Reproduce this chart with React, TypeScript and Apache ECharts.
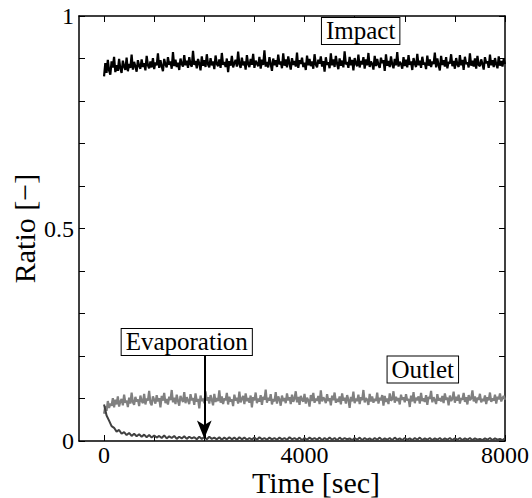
import React, { useEffect, useRef } from "react";
import * as echarts from "echarts";

const bandStep = 25; // seconds between Impact / Outlet samples
const evaporationStep = 50; // seconds between Evaporation samples
const impact = [
  0.858,0.889,0.866,0.897,0.872,0.862,0.893,0.879,0.904,0.868,
  0.884,0.871,0.899,0.876,0.866,0.895,0.881,0.873,0.902,0.870,
  0.887,0.878,0.909,0.874,0.892,0.881,0.869,0.896,0.883,0.876,
  0.898,0.880,0.889,0.872,0.906,0.884,0.877,0.893,0.879,0.901,
  0.875,0.891,0.884,0.912,0.878,0.896,0.882,0.870,0.899,0.886,
  0.879,0.903,0.885,0.893,0.876,0.915,0.882,0.897,0.880,0.890,
  0.873,0.900,0.887,0.881,0.908,0.884,0.895,0.878,0.903,0.886,
  0.881,0.918,0.885,0.894,0.877,0.899,0.888,0.872,0.905,0.883,
  0.896,0.880,0.910,0.886,0.879,0.901,0.884,0.893,0.875,0.907,
  0.887,0.882,0.898,0.878,0.913,0.885,0.892,0.880,0.900,0.868,
  0.894,0.883,0.906,0.879,0.889,0.897,0.881,0.916,0.886,0.878,
  0.902,0.884,0.893,0.874,0.908,0.887,0.880,0.899,0.885,0.911,
  0.878,0.895,0.888,0.882,0.904,0.876,0.897,0.885,0.919,0.881,
  0.892,0.879,0.903,0.887,0.871,0.900,0.884,0.896,0.880,0.909,
  0.886,0.893,0.877,0.912,0.883,0.898,0.879,0.905,0.888,0.874,
  0.901,0.885,0.894,0.881,0.914,0.878,0.896,0.887,0.902,0.880,
  0.890,0.873,0.907,0.884,0.899,0.882,0.893,0.876,0.910,0.886,
  0.879,0.897,0.888,0.905,0.881,0.894,0.869,0.903,0.885,0.891,
  0.877,0.912,0.884,0.898,0.880,0.906,0.887,0.875,0.900,0.883,
  0.895,0.879,0.917,0.886,0.892,0.878,0.904,0.884,0.897,0.872,
  0.901,0.888,0.882,0.909,0.879,0.894,0.886,0.903,0.876,0.898,
  0.884,0.913,0.880,0.893,0.887,0.874,0.906,0.882,0.899,0.885,
  0.878,0.902,0.889,0.896,0.871,0.910,0.883,0.894,0.880,0.905,
  0.886,0.877,0.899,0.884,0.915,0.881,0.892,0.887,0.876,0.903,
  0.882,0.897,0.879,0.908,0.885,0.893,0.873,0.901,0.888,0.880,
  0.911,0.884,0.895,0.878,0.904,0.886,0.890,0.875,0.907,0.883,
  0.898,0.880,0.893,0.887,0.914,0.879,0.900,0.884,0.872,0.906,
  0.885,0.896,0.881,0.903,0.877,0.892,0.888,0.910,0.882,0.894,
  0.876,0.901,0.886,0.880,0.908,0.884,0.897,0.873,0.904,0.887,
  0.891,0.879,0.912,0.883,0.895,0.881,0.900,0.876,0.906,0.885,
  0.882,0.898,0.887,0.874,0.903,0.889,0.893,0.878,0.909,0.884,
  0.896,0.880,0.901,0.886,0.877,0.905,0.883,0.894,0.881,0.899,
  0.887,
];
const outlet = [
  0.064,0.082,0.071,0.094,0.078,0.088,0.083,0.101,0.079,0.097,
  0.086,0.105,0.081,0.093,0.099,0.084,0.109,0.090,0.095,0.080,
  0.102,0.088,0.114,0.091,0.085,0.104,0.093,0.098,0.082,0.107,
  0.094,0.089,0.111,0.086,0.100,0.095,0.118,0.090,0.084,0.105,
  0.097,0.088,0.108,0.093,0.101,0.079,0.106,0.095,0.113,0.089,
  0.099,0.086,0.104,0.096,0.120,0.091,0.102,0.087,0.109,0.094,
  0.083,0.106,0.098,0.092,0.115,0.089,0.103,0.095,0.087,0.110,
  0.096,0.101,0.085,0.112,0.093,0.099,0.077,0.107,0.094,0.100,
  0.089,0.117,0.095,0.103,0.088,0.108,0.097,0.084,0.111,0.092,
  0.101,0.094,0.119,0.090,0.105,0.087,0.100,0.096,0.113,0.086,
  0.104,0.093,0.098,0.082,0.109,0.095,0.102,0.088,0.116,0.091,
  0.099,0.106,0.087,0.112,0.094,0.101,0.090,0.107,0.079,0.103,
  0.096,0.114,0.089,0.100,0.093,0.108,0.085,0.104,0.097,0.121,
  0.090,0.102,0.095,0.110,0.086,0.099,0.093,0.115,0.088,0.105,
  0.098,0.083,0.107,0.094,0.101,0.089,0.112,0.096,0.103,0.087,
  0.109,0.092,0.100,0.117,0.091,0.104,0.085,0.106,0.097,0.093,
  0.111,0.088,0.102,0.096,0.081,0.108,0.094,0.113,0.090,0.100,
  0.095,0.106,0.087,0.119,0.093,0.103,0.098,0.089,0.110,0.094,
  0.101,0.084,0.107,0.096,0.114,0.090,0.099,0.092,0.105,0.086,
  0.112,0.095,0.102,0.088,0.108,0.097,0.078,0.104,0.093,0.116,
  0.089,0.100,0.094,0.109,0.087,0.103,0.096,0.120,0.091,0.101,
  0.097,0.085,0.111,0.093,0.105,0.090,0.099,0.094,0.114,0.088,
  0.102,0.096,0.108,0.083,0.106,0.092,0.100,0.087,0.112,0.095,
  0.098,0.117,0.090,0.104,0.094,0.101,0.086,0.109,0.097,0.103,
  0.091,0.110,0.095,0.099,0.080,0.107,0.093,0.115,0.089,0.102,
  0.096,0.105,0.088,0.113,0.094,0.100,0.092,0.108,0.085,0.104,
  0.099,0.118,0.091,0.103,0.096,0.087,0.110,0.095,0.101,0.093,
  0.106,0.089,0.112,0.097,0.102,0.084,0.107,0.094,0.099,0.116,
  0.090,0.104,0.095,0.109,0.088,0.101,0.097,0.113,0.092,0.103,
  0.086,0.108,0.096,0.100,0.119,0.093,0.105,0.089,0.102,0.097,
  0.111,0.091,0.099,0.094,0.107,0.087,0.103,0.096,0.114,0.092,
  0.100,0.095,0.109,0.088,0.104,0.098,0.112,0.093,0.101,0.106,
  0.097,
];
const evaporation = [
  0.086,0.060,0.048,0.035,0.031,0.022,0.026,0.017,0.021,0.014,
  0.019,0.012,0.017,0.011,0.016,0.010,0.015,0.009,0.014,0.008,
  0.013,0.008,0.012,0.007,0.013,0.006,0.011,0.007,0.012,0.005,
  0.010,0.006,0.011,0.005,0.010,0.006,0.009,0.004,0.010,0.005,
  0.009,0.004,0.010,0.005,0.008,0.004,0.009,0.003,0.008,0.004,
  0.009,0.004,0.008,0.003,0.009,0.004,0.008,0.003,0.007,0.004,
  0.008,0.003,0.009,0.004,0.007,0.003,0.008,0.004,0.007,0.003,
  0.008,0.004,0.007,0.003,0.009,0.004,0.007,0.003,0.008,0.002,
  0.007,0.003,0.008,0.004,0.007,0.003,0.008,0.002,0.007,0.003,
  0.008,0.003,0.007,0.002,0.008,0.003,0.007,0.004,0.006,0.002,
  0.007,0.003,0.008,0.002,0.007,0.003,0.006,0.002,0.007,0.003,
  0.008,0.002,0.006,0.003,0.007,0.002,0.008,0.003,0.006,0.002,
  0.007,0.003,0.006,0.002,0.007,0.003,0.008,0.002,0.006,0.003,
  0.007,0.002,0.006,0.003,0.007,0.002,0.006,0.003,0.007,0.002,
  0.006,0.003,0.007,0.002,0.006,0.003,0.007,0.002,0.006,0.003,
  0.005,0.002,0.006,0.003,0.007,0.002,0.006,0.003,0.005,0.002,
  0.006,
];
const xTicks = [0, 1000, 2000, 3000, 4000, 5000, 6000, 7000, 8000];
const xTickLabels = [0, 4000, 8000];
const yTickLabels = [0, 0.5, 1];
const arrowX = 2000;
const arrowFrom = 0.2;
const arrowTo = 0.006;
const annotations = [
  { text: "Impact", x: 5120, y: 0.965 },
  { text: "Outlet", x: 6360, y: 0.168 },
  { text: "Evaporation", x: 1650, y: 0.233 },
];

const FONT = "Liberation Serif";

export default function App() {
  const ref = useRef<HTMLDivElement>(null);
  useEffect(() => {
    if (!ref.current) return;
    const chart = echarts.init(ref.current, undefined, { renderer: "svg" });
    const toPairs = (arr: number[], step: number) => arr.map((v, i) => [i * step, v]);
    const axisLine = { show: true, onZero: false, lineStyle: { color: "#000", width: 1.5 } };
    const tick = { show: true, inside: true, length: 6, lineStyle: { color: "#000", width: 1 } };
    const option: any = {
      animation: false,
      backgroundColor: "#fff",
      textStyle: { fontFamily: FONT },
      grid: { left: 79, right: 27, top: 16, bottom: 57, containLabel: false, outerBoundsMode: "none" },
      xAxis: [
        {
          type: "value", position: "bottom", min: -500, max: 8000,
          axisLine,
          axisTick: { ...tick, customValues: xTicks },
          axisLabel: { customValues: xTickLabels, fontFamily: FONT, fontSize: 24, color: "#000", margin: 2, formatter: (v: number) => String(v) },
          splitLine: { show: false },
          name: "Time [sec]", nameLocation: "middle", nameGap: 26, nameMoveOverlap: false,
          nameTextStyle: { fontFamily: FONT, fontSize: 30, color: "#000", padding: [0, 0, 0, 48] },
        },
        {
          type: "value", position: "top", min: -500, max: 8000,
          axisLine,
          axisTick: { ...tick, customValues: xTicks },
          axisLabel: { show: false },
          splitLine: { show: false },
        },
      ],
      yAxis: [
        {
          type: "value", position: "left", min: 0, max: 1, interval: 0.1,
          axisLine,
          axisTick: tick,
          axisLabel: { customValues: yTickLabels, fontFamily: FONT, fontSize: 24, color: "#000", margin: 5, formatter: (v: number) => String(v) },
          splitLine: { show: false },
          name: "Ratio [\u2212]", nameLocation: "middle", nameGap: 40, nameMoveOverlap: false,
          nameTextStyle: { fontFamily: FONT, fontSize: 30, color: "#000" },
        },
        {
          type: "value", position: "right", min: 0, max: 1, interval: 0.1,
          axisLine,
          axisTick: tick,
          axisLabel: { show: false },
          splitLine: { show: false },
        },
      ],
      series: [
        {
          name: "Outlet", type: "line", data: toPairs(outlet, bandStep), showSymbol: false,
          lineStyle: { color: "#808080", width: 2.2 }, itemStyle: { color: "#808080" },
        },
        {
          name: "Evaporation", type: "line", data: toPairs(evaporation, evaporationStep), showSymbol: false,
          lineStyle: { color: "#404040", width: 2 }, itemStyle: { color: "#404040" },
          markLine: {
            silent: true, symbol: ["none", "arrow"], symbolSize: [11, 18],
            label: { show: false },
            lineStyle: { color: "#000", width: 2, type: "solid" },
            data: [[{ coord: [arrowX, arrowFrom] }, { coord: [arrowX, arrowTo] }]],
          },
        },
        {
          name: "Impact", type: "line", data: toPairs(impact, bandStep), showSymbol: false,
          lineStyle: { color: "#000", width: 2.2 }, itemStyle: { color: "#000" },
        },
      ],
    };
    chart.setOption(option);
    const graphic = annotations.map((a) => {
      const p = chart.convertToPixel({ xAxisIndex: 0, yAxisIndex: 0 }, [a.x, a.y]) as number[];
      return {
        type: "text", x: p[0], y: p[1], z: 100,
        style: {
          text: a.text, fontFamily: FONT, fontSize: 25, fill: "#000",
          align: "center", verticalAlign: "middle",
          backgroundColor: "#fff", borderColor: "#000", borderWidth: 1,
          padding: [1, 4, 0, 4],
        },
      };
    });
    chart.setOption({ graphic });
    return () => chart.dispose();
  }, []);
  return <div ref={ref} style={{ width: 532, height: 498, position: "absolute", left: 0, top: 0 }} />;
}
